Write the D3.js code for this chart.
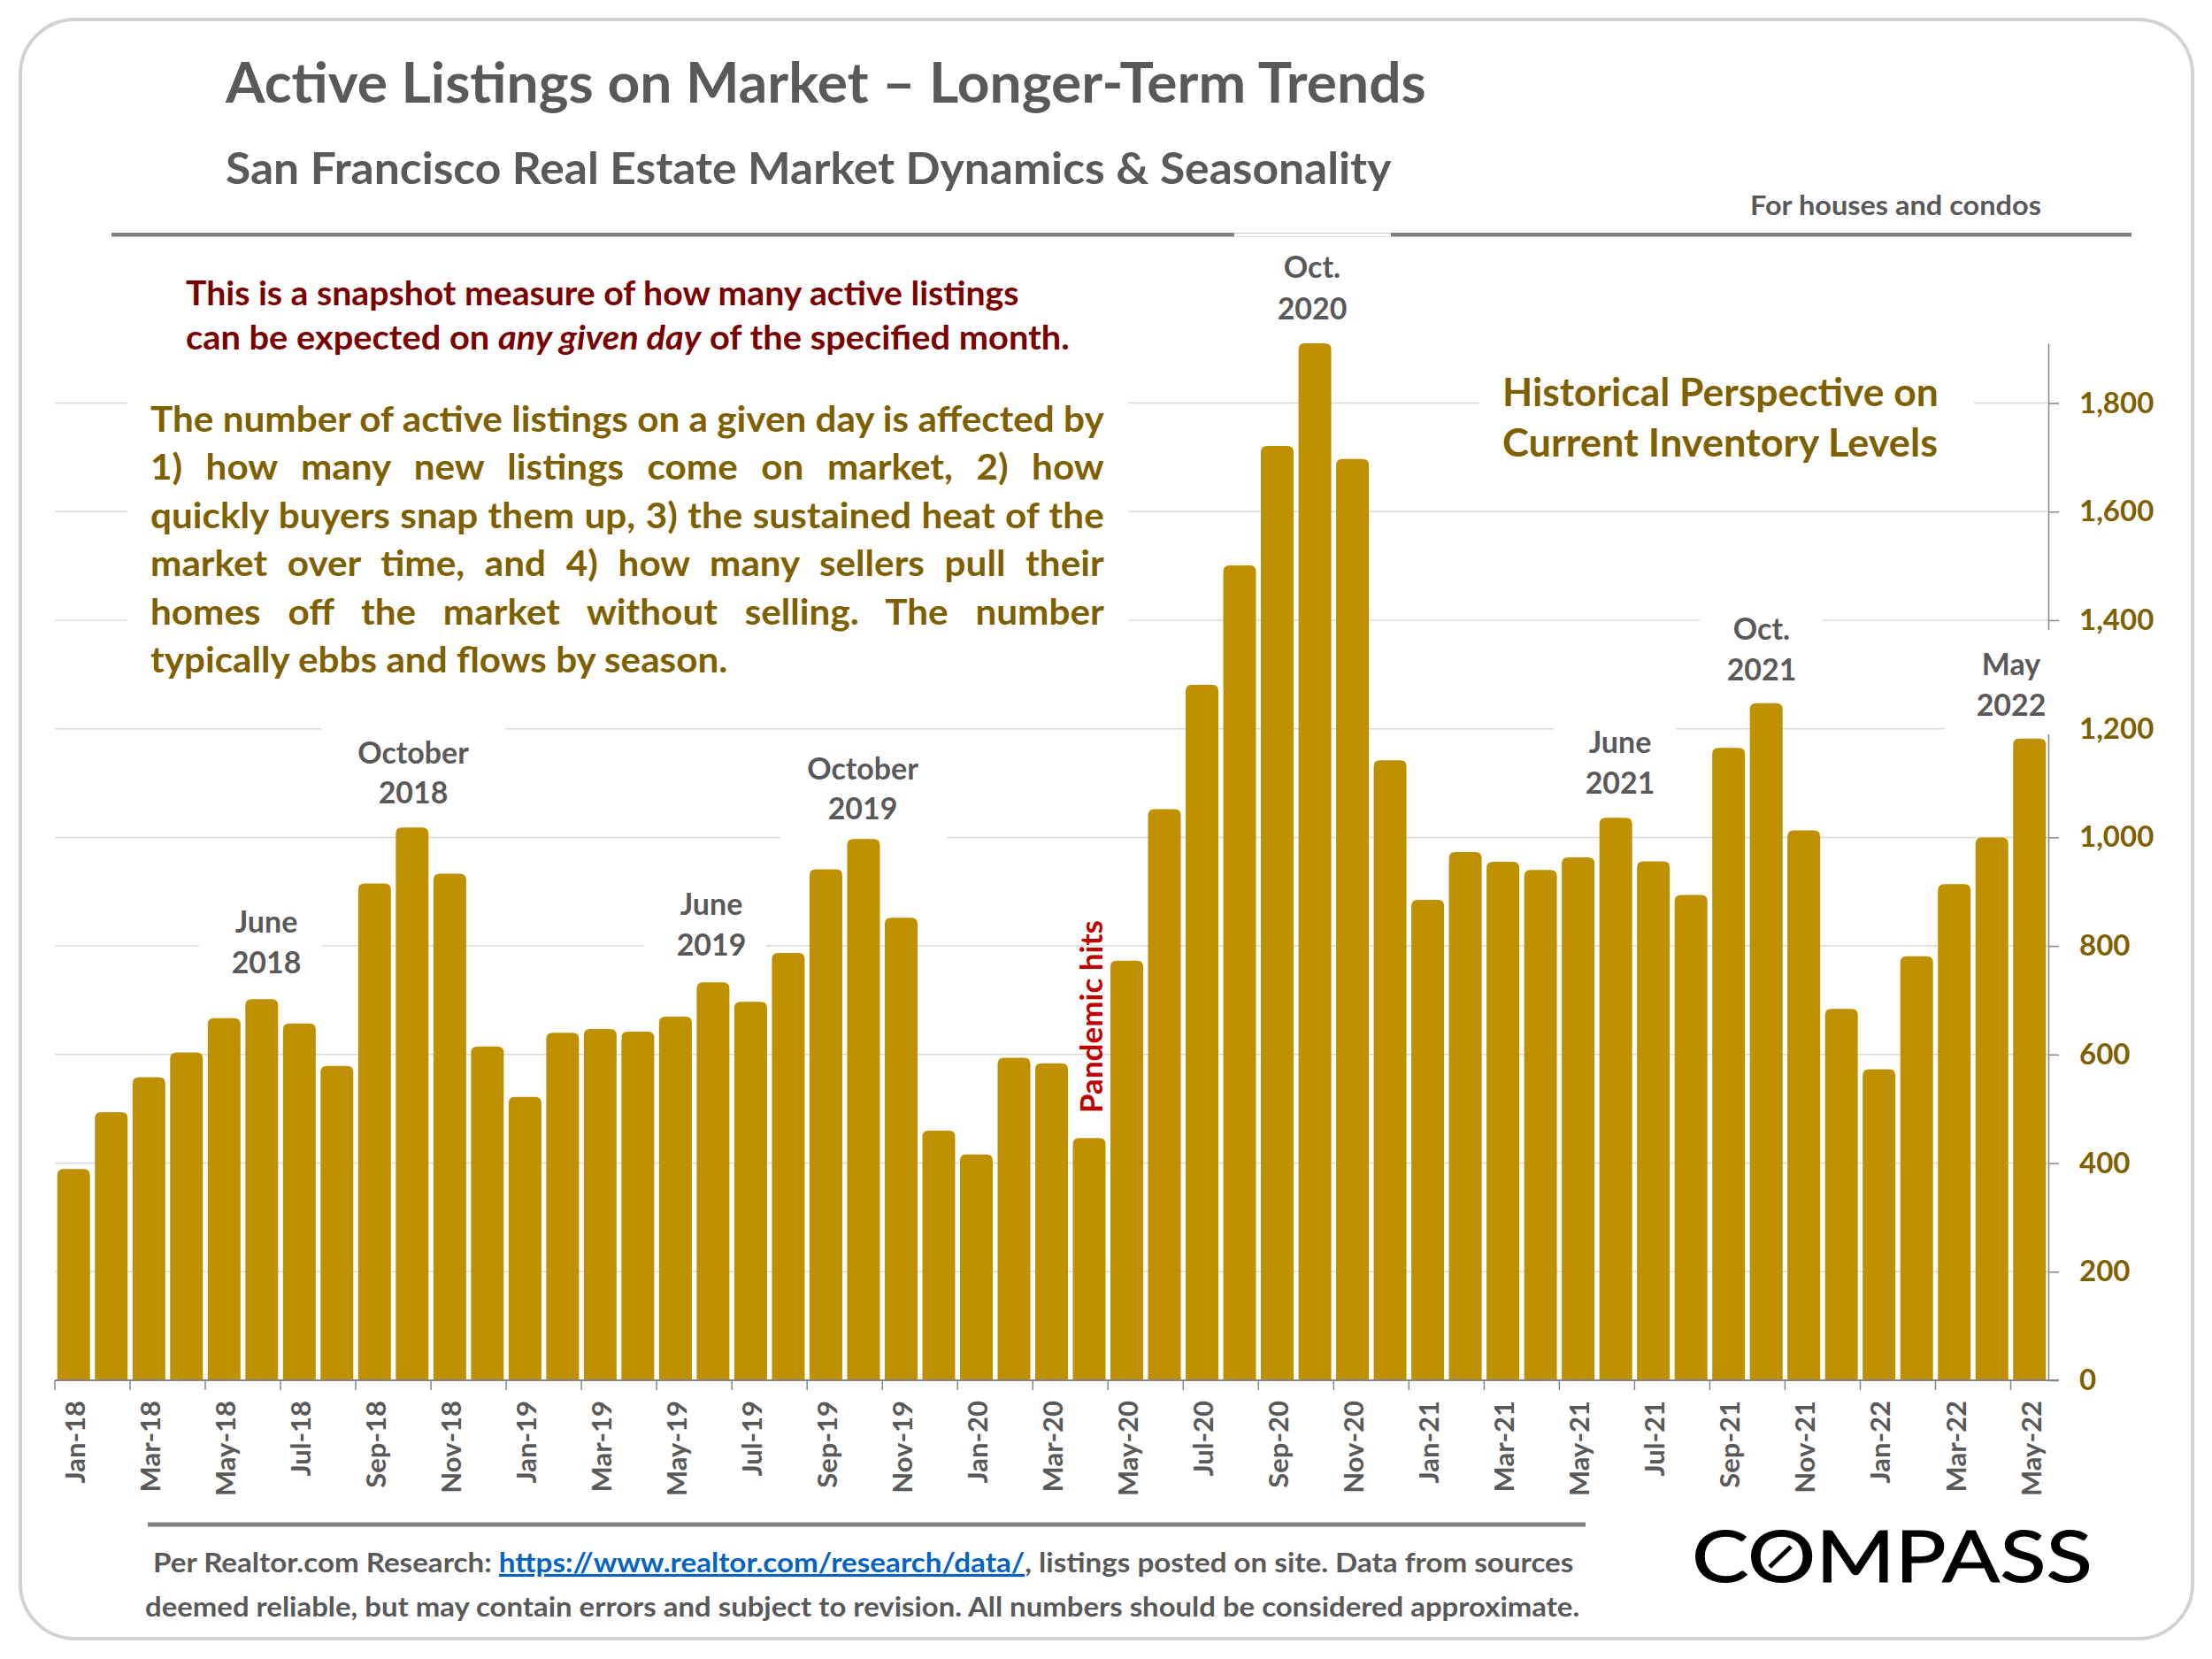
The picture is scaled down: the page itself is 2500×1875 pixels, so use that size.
<!DOCTYPE html>
<html>
<head>
<meta charset="utf-8">
<title>Active Listings on Market</title>
<script src="https://cdn.jsdelivr.net/npm/d3@7"></script>
<style>
  html, body { margin: 0; padding: 0; background: #ffffff; }
  svg { display: block; }
  text { font-family: "Lato", "Open Sans", sans-serif; font-weight: 700; }
</style>
</head>
<body>
<div id="chart"></div>
<script>
const months = [
  "Jan-18","Feb-18","Mar-18","Apr-18","May-18","Jun-18","Jul-18","Aug-18","Sep-18","Oct-18","Nov-18","Dec-18",
  "Jan-19","Feb-19","Mar-19","Apr-19","May-19","Jun-19","Jul-19","Aug-19","Sep-19","Oct-19","Nov-19","Dec-19",
  "Jan-20","Feb-20","Mar-20","Apr-20","May-20","Jun-20","Jul-20","Aug-20","Sep-20","Oct-20","Nov-20","Dec-20",
  "Jan-21","Feb-21","Mar-21","Apr-21","May-21","Jun-21","Jul-21","Aug-21","Sep-21","Oct-21","Nov-21","Dec-21",
  "Jan-22","Feb-22","Mar-22","Apr-22","May-22"
];
const listings = [
  389, 494, 558, 604, 667, 702, 657, 579, 915, 1018, 933, 615,
  522, 640, 647, 642, 670, 733, 697, 787, 941, 997, 852, 460,
  416, 594, 584, 446, 773, 1052, 1281, 1501, 1721, 1910, 1697, 1142,
  885, 973, 955, 940, 963, 1036, 956, 894, 1165, 1247, 1013, 684,
  573, 781, 914, 1000, 1182
];
const yTicks = [0, 200, 400, 600, 800, 1000, 1200, 1400, 1600, 1800];
const xTicks = months.filter((d, i) => i % 2 === 0);
const yMax = 1910;

const introLines = [
  "The number of active listings on a given day is affected by",
  "1) how many new listings come on market, 2) how",
  "quickly buyers snap them up, 3) the sustained heat of the",
  "market over time, and 4) how many sellers pull their",
  "homes off the market without selling. The number",
  "typically ebbs and flows by season."
];

const GREY = "#595959", BROWN = "#7f6000", GOLD = "#bf9000", MAROON = "#7b0000", RED = "#c00000";
const RULE = "#7f7f7f", AXIS = "#868686", GRID = "#d9d9d9";

const svg = d3.select("#chart").append("svg")
  .attr("width", 2500)
  .attr("height", 1875)
  .style("background-color", "#ffffff");

// card outline
svg.append("rect")
  .attr("x", 23).attr("y", 22)
  .attr("width", 2455).attr("height", 1830)
  .attr("rx", 62).attr("ry", 62)
  .attr("fill", "#ffffff")
  .attr("stroke", "#d2d2d2")
  .attr("stroke-width", 4);

const x = d3.scaleBand().domain(months).range([62, 2315]).paddingInner(0.13).paddingOuter(0.065);
const y = d3.scaleLinear().domain([0, yMax]).range([1560, 388]);

// gridlines
svg.append("g").selectAll("line")
  .data(yTicks.filter(d => d > 0))
  .enter()
  .append("line")
  .attr("x1", 62).attr("x2", 2315)
  .attr("y1", d => y(d)).attr("y2", d => y(d))
  .attr("stroke", GRID)
  .attr("stroke-width", 1.5);

// right axis
const yAxis = svg.append("g")
  .attr("transform", "translate(2315,0)")
  .call(d3.axisRight(y).tickValues(yTicks).tickFormat(d3.format(",")).tickSize(12).tickSizeOuter(0).tickPadding(23));
yAxis.select(".domain").attr("stroke", AXIS).attr("stroke-width", 1.5);
yAxis.selectAll(".tick line").attr("stroke", AXIS).attr("stroke-width", 1.5);
yAxis.selectAll(".tick text")
  .attr("fill", BROWN)
  .style("font-family", "Lato")
  .style("font-weight", 700)
  .style("font-size", "33px");

// bars, rounded at the top only
const r = 7;
svg.append("g").selectAll("path")
  .data(months.map((m, i) => ({ month: m, value: listings[i] })))
  .enter()
  .append("path")
  .attr("fill", GOLD)
  .attr("d", d => {
    const x0 = x(d.month), x1 = x0 + x.bandwidth(), t = y(d.value), b = y(0) + 1;
    return `M${x0},${b}V${t + r}Q${x0},${t} ${x0 + r},${t}H${x1 - r}Q${x1},${t} ${x1},${t + r}V${b}Z`;
  });

// bottom axis, ticks sit on the band edges
const step = x.step();
const xAxis = svg.append("g")
  .attr("transform", `translate(0,${y(0)})`)
  .call(d3.axisBottom(x).tickValues(xTicks).tickSize(11).tickSizeOuter(0).tickPadding(23));
xAxis.select(".domain").remove();
svg.append("line")
  .attr("x1", 62).attr("x2", 2327)
  .attr("y1", y(0)).attr("y2", y(0))
  .attr("stroke", AXIS).attr("stroke-width", 2);
xAxis.selectAll(".tick line")
  .attr("x1", -step / 2).attr("x2", -step / 2)
  .attr("stroke", AXIS).attr("stroke-width", 1.5);
xAxis.selectAll(".tick text")
  .attr("transform", "rotate(-90)")
  .attr("x", -23).attr("y", 1).attr("dy", "0.38em")
  .attr("text-anchor", "end")
  .attr("fill", GREY)
  .style("font-family", "Lato")
  .style("font-weight", 700)
  .style("font-size", "31px");

// white patches behind the text boxes, they cut the gridlines in the original
const patches = [
  [144, 410, 1131, 380], [1395, 266, 177, 120], [1672, 430, 559, 110],
  [1921, 690, 139, 90], [1756, 815, 138, 90], [2198, 712, 132, 118],
  [225, 1030, 138, 80], [363, 815, 208, 110], [882, 860, 188, 88], [728, 1010, 138, 80]
];
svg.append("g").selectAll("rect")
  .data(patches)
  .enter()
  .append("rect")
  .attr("x", d => d[0]).attr("y", d => d[1])
  .attr("width", d => d[2]).attr("height", d => d[3])
  .attr("fill", "#ffffff");

// rules
svg.append("rect").attr("x", 126).attr("y", 263).attr("width", 2283).attr("height", 4.5).attr("fill", RULE);
svg.append("rect").attr("x", 1395).attr("y", 263).attr("width", 177).attr("height", 4.5).attr("fill", "#ffffff");
svg.append("line").attr("x1", 1395).attr("x2", 1572).attr("y1", 263.5).attr("y2", 263.5).attr("stroke", "#c8c8c8").attr("stroke-width", 1);
svg.append("rect").attr("x", 167).attr("y", 1720.5).attr("width", 1625).attr("height", 5).attr("fill", RULE);

// text helper: squeeze Lato to the measured width of the line
function label(str, opts) {
  const t = svg.append("text")
    .attr("font-size", opts.size)
    .attr("fill", opts.color)
    .attr("text-anchor", opts.anchor || "start");
  if (opts.weight) t.style("font-weight", opts.weight);
  if (opts.parts) {
    opts.parts.forEach(p => {
      const s = t.append("tspan").text(p.text);
      if (p.italic) s.style("font-style", "italic");
      if (p.color) s.attr("fill", p.color);
      if (p.underline) s.style("text-decoration", "underline");
    });
  } else {
    t.text(str);
  }
  const natural = t.node().getComputedTextLength();
  const sx = opts.width ? opts.width / natural : (opts.sx || 1);
  t.attr("transform", `translate(${opts.x},${opts.y}) scale(${sx},1)`);
  return { sel: t, natural, sx };
}

label("Active Listings on Market – Longer-Term Trends", { x: 255, y: 116, size: 63, color: GREY, width: 1357 });
label("San Francisco Real Estate Market Dynamics & Seasonality", { x: 255, y: 208, size: 49, color: GREY, width: 1318 });
label("For houses and condos", { x: 1978, y: 243, size: 31, color: GREY, width: 329 });

label(null, { x: 210, y: 345, size: 38, color: MAROON, width: 942,
  parts: [{ text: "This is a snapshot measure of how many active listings" }] });
label(null, { x: 210, y: 395, size: 38, color: MAROON, width: 999,
  parts: [{ text: "can be expected on " }, { text: "any given day", italic: true }, { text: " of the specified month." }] });

// justified paragraph, the first line sets the squeeze for all of them
const lineW = 1078;
const first = label(introLines[0], { x: 170, y: 488, size: 41, color: BROWN, width: lineW });
introLines.slice(1).forEach((line, i) => {
  const l = label(line, { x: 170, y: 488 + (i + 1) * 54.4, size: 41, color: BROWN, sx: first.sx });
  if (i < 4) {
    const gaps = line.split(" ").length - 1;
    l.sel.attr("word-spacing", (lineW / first.sx - l.natural) / gaps);
  }
});

label("Historical Perspective on", { x: 1698, y: 459, size: 44, color: BROWN, width: 493 });
label("Current Inventory Levels", { x: 1698, y: 516, size: 44, color: BROWN, width: 492 });

// month callouts above the bars
function callout(a, b, cx, y1, y2) {
  label(a, { x: cx, y: y1, size: 35, color: GREY, anchor: "middle", sx: 0.97 });
  label(b, { x: cx, y: y2, size: 35, color: GREY, anchor: "middle", sx: 0.97 });
}
callout("June", "2018", 301, 1054, 1100);
callout("October", "2018", 467, 863, 908);
callout("June", "2019", 804, 1034, 1080);
callout("October", "2019", 975, 881, 926);
callout("Oct.", "2020", 1483, 314, 361);
callout("June", "2021", 1831, 851, 897);
callout("Oct.", "2021", 1991, 723, 769);
callout("May", "2022", 2273, 763, 809);

svg.append("text")
  .attr("transform", "translate(1246,1258) rotate(-90)")
  .attr("font-size", 35)
  .attr("fill", RED)
  .text("Pandemic hits");

// footer
label(null, { x: 173, y: 1777, size: 31, color: GREY, width: 1606,
  parts: [
    { text: "Per Realtor.com Research:  " },
    { text: "https://www.realtor.com/research/data/", color: "#0563c1", underline: true },
    { text: ", listings posted on site. Data from sources" }
  ] });
label("deemed reliable, but may contain errors and subject to revision. All numbers should be considered approximate.",
  { x: 164, y: 1827, size: 31, color: GREY, width: 1622 });

// logo
label("COMPASS", { x: 1912, y: 1788, size: 82, color: "#000000", width: 453, weight: 400 }).sel
  .attr("stroke", "#000000")
  .attr("stroke-width", 1);
svg.append("line")
  .attr("x1", 2024).attr("y1", 1748)
  .attr("x2", 2000).attr("y2", 1771)
  .attr("stroke", "#000000")
  .attr("stroke-width", 5);
</script>
</body>
</html>
